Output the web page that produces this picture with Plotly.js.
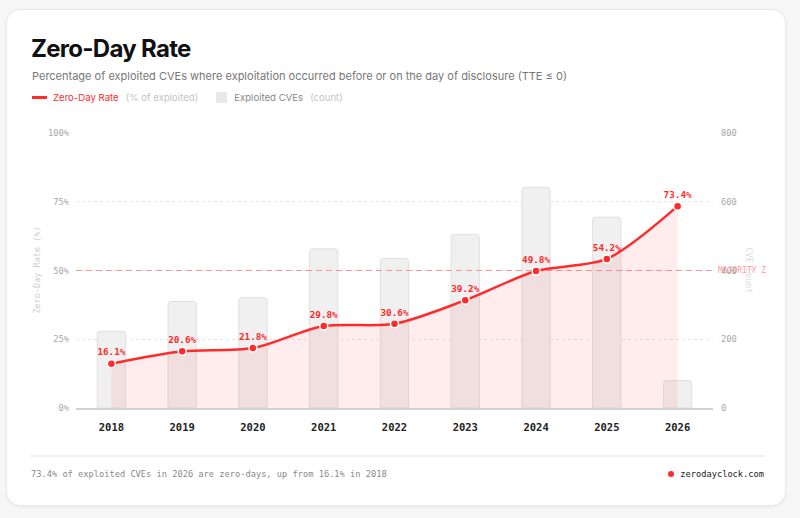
<!DOCTYPE html>
<html>
<head>
<meta charset="utf-8">
<script src="https://cdn.plot.ly/plotly-3.0.1.min.js"></script>
<style>
  html, body { margin: 0; padding: 0; background: #f6f6f6; width: 800px; height: 518px; overflow: hidden; }
  #card {
    position: absolute; left: 6px; top: 9px; width: 778px; height: 495px;
    background: #fff; border: 1px solid #e9e9e9; border-radius: 14px;
    box-shadow: 0 1px 3px rgba(0,0,0,0.06);
  }
  #chart { position: absolute; left: 0; top: 0; width: 800px; height: 518px; }
  .hd { position: absolute; font-family: Inter, sans-serif; white-space: nowrap; }
  #title { left: 31px; top: 34px; font-size: 24px; font-weight: 700; color: #111; letter-spacing: -0.7px; }
  #sub { left: 32px; top: 69px; font-size: 11px; color: #777; }
  #legend { left: 32px; top: 92px; font-size: 9.6px; display: flex; align-items: center; }
  #legend .ln { width: 15px; height: 2.5px; background: #ff2b2b; margin-right: 6px; }
  #legend .sq { width: 11px; height: 11px; background: #e9e9e9; margin-left: 18px; margin-right: 7px; }
  #legend .muted { color: #c4c4c4; margin-left: 7px; }
  #sep { position: absolute; left: 31px; top: 455px; width: 734px; height: 2px; background: #efeff4; }
  .ft { position: absolute; top: 469px; font-family: "DejaVu Sans Mono", monospace; font-size: 8.7px; white-space: nowrap; }
  #ftl { left: 31px; color: #888; }
  #ftr { right: 36px; color: #222; display: flex; align-items: center; }
  #ftr .dot { width: 6px; height: 6px; border-radius: 50%; background: #ff2b2b; margin-right: 6px; }
</style>
</head>
<body>
<div id="card"></div>
<div id="chart"></div>
<div class="hd" id="title">Zero-Day Rate</div>
<div class="hd" id="sub">Percentage of exploited CVEs where exploitation occurred before or on the day of disclosure (TTE ≤ 0)</div>
<div class="hd" id="legend">
  <span class="ln"></span><span style="color:#ff2b2b">Zero-Day Rate</span><span class="muted">(% of exploited)</span>
  <span class="sq"></span><span style="color:#888">Exploited CVEs</span><span class="muted">(count)</span>
</div>
<div id="sep"></div>
<div class="ft" id="ftl">73.4% of exploited CVEs in 2026 are zero-days, up from 16.1% in 2018</div>
<div class="ft" id="ftr"><span class="dot"></span>zerodayclock.com</div>
<script>
// chart data
const years = ['2018', '2019', '2020', '2021', '2022', '2023', '2024', '2025', '2026'];
const zeroDayRate = [16.1, 20.6, 21.8, 29.8, 30.6, 39.2, 49.8, 54.2, 73.4];
const exploitedCves = [223, 310, 321, 463, 435, 505, 642, 555, 80];
const rateTicks = [0, 25, 50, 75, 100];
const countTicks = [0, 200, 400, 600, 800];
const majorityLevel = 50;

const MONO = '"DejaVu Sans Mono", monospace';
const RED = '#ff2b2b';

// Bars: counts, drawn on the base axis so the line sits above them
const barTrace = {
    x: years,
    y: exploitedCves,
    type: 'bar',
    yaxis: 'y',
    width: 0.4,
    marker: {
        color: '#f0f0f0',
        line: { color: '#e0e0e0', width: 1 }
    },
    hoverinfo: 'skip'
};

// Line: zero-day rate with light fill underneath
const lineTrace = {
    x: years,
    y: zeroDayRate,
    type: 'scatter',
    mode: 'lines+markers+text',
    yaxis: 'y2',
    text: zeroDayRate.map(v => v.toFixed(1) + '%'),
    textposition: 'top center',
    textfont: { family: MONO, size: 9.3, color: RED, weight: 600 },
    line: { color: RED, width: 2.5, shape: 'spline', smoothing: 0.8 },
    marker: { color: RED, size: 8, line: { color: '#ffffff', width: 1.5 } },
    fill: 'tozeroy',
    fillcolor: 'rgba(255, 60, 60, 0.09)',
    cliponaxis: false,
    hoverinfo: 'skip'
};

const tickFont = { family: MONO, size: 8.7, color: '#a8a8a8' };

const layout = {
    width: 800,
    height: 518,
    paper_bgcolor: 'rgba(0,0,0,0)',
    plot_bgcolor: 'rgba(0,0,0,0)',
    margin: { l: 76, r: 87, t: 133, b: 110, pad: 0 },
    showlegend: false,
    barcornerradius: 3,
    xaxis: {
        type: 'category',
        range: [-0.5, 8.5],
        showgrid: false,
        zeroline: false,
        showline: true,
        linecolor: '#d2d2d2',
        linewidth: 1.5,
        ticks: '',
        ticklabelstandoff: 9,
        tickfont: { family: MONO, size: 10.5, color: '#222', weight: 700 }
    },
    yaxis: {
        side: 'right',
        range: [0, 800],
        tickvals: countTicks,
        showgrid: true,
        gridcolor: '#e6e6e6',
        griddash: 'dot',
        gridwidth: 1,
        zeroline: false,
        ticks: '',
        ticklabelstandoff: 7,
        tickfont: tickFont
    },
    yaxis2: {
        side: 'left',
        overlaying: 'y',
        range: [0, 100],
        tickvals: rateTicks,
        ticktext: rateTicks.map(v => v + '%'),
        showgrid: false,
        zeroline: false,
        ticks: '',
        ticklabelstandoff: 6,
        tickfont: tickFont
    },
    shapes: [{
        type: 'line',
        xref: 'paper', x0: 0, x1: 1,
        yref: 'y2', y0: majorityLevel, y1: majorityLevel,
        line: { color: 'rgba(255, 90, 90, 0.6)', width: 1, dash: '6px,4px' },
        layer: 'above'
    }],
    annotations: [
        {
            xref: 'paper', x: 1, xshift: 3, xanchor: 'left',
            yref: 'y2', y: majorityLevel, yanchor: 'middle',
            text: 'MAJORITY Z',
            showarrow: false,
            font: { family: MONO, size: 8, color: 'rgba(255, 80, 80, 0.6)' }
        },
        {
            xref: 'paper', x: 0, xshift: -40, xanchor: 'center',
            yref: 'paper', y: 0.5, yanchor: 'middle',
            text: 'Zero-Day Rate (%)',
            textangle: -90,
            showarrow: false,
            font: { family: MONO, size: 8.5, color: '#cfcfcf' }
        },
        {
            xref: 'paper', x: 1, xshift: 36, xanchor: 'center',
            yref: 'paper', y: 0.5, yanchor: 'middle',
            text: 'CVE Count',
            textangle: 90,
            showarrow: false,
            font: { family: MONO, size: 8.5, color: '#dcdcdc' }
        }
    ]
};

const config = { responsive: false, displayModeBar: false, staticPlot: true };

Plotly.newPlot('chart', [barTrace, lineTrace], layout, config);
</script>
</body>
</html>
